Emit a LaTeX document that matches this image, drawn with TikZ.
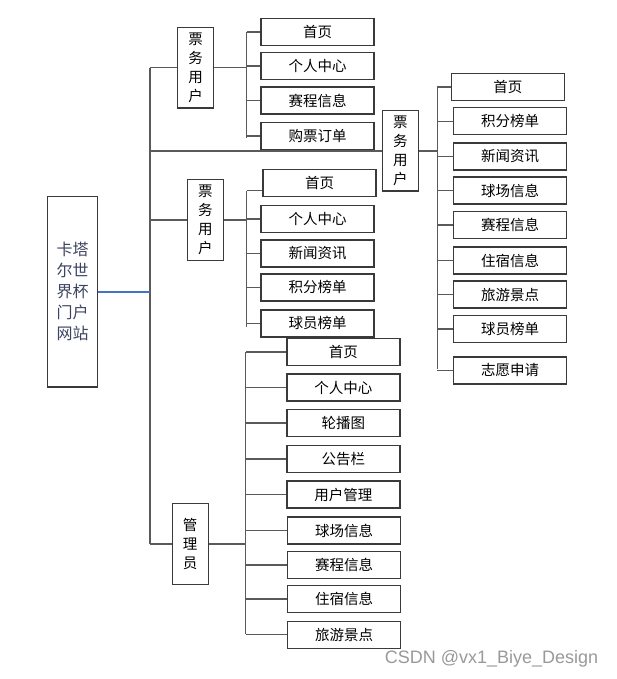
\documentclass[tikz,border=0pt]{standalone}
\usepackage{fontspec}
\newfontfamily\cjk{Noto Sans CJK SC}
\setsansfont{Liberation Sans}
\definecolor{boxgray}{HTML}{3A3A3A}
\definecolor{linegray}{HTML}{5A5A5A}
\definecolor{rootblue}{HTML}{4472C4}
\definecolor{roottext}{HTML}{3C4360}
\begin{document}
\begin{tikzpicture}[x=1pt,y=-1pt,
        item/.style={draw=boxgray,line width=1.4pt,minimum width=113pt,minimum height=27pt,inner sep=0pt,font=\cjk\fontsize{14.5}{16}\selectfont},
        role/.style={draw=boxgray,line width=1.4pt,minimum width=36pt,minimum height=80.5pt,inner sep=0pt,align=center,font=\cjk\fontsize{14.5}{19}\selectfont},
        link/.style={draw=linegray,line width=1.5pt}]
        \useasboundingbox(0,0)rectangle(616,679);
        % root
        \node(site)[draw=boxgray,line width=1.4pt,minimum width=50pt,minimum height=190.3pt,inner sep=0pt,align=center,text=roottext,font=\cjk\fontsize{16}{21}\selectfont]at(72.7,291.9){卡塔\\尔世\\界杯\\门户\\网站};
        \coordinate(t0)at(150,67.7);
        \coordinate(t1)at(150,544);
        \draw[link](t0)--(t1);
        \draw[draw=rootblue,line width=1.3pt](site)--(site -| t0);
        % first ticket user
        \node(u1)[role]at(195.7,67.7){票\\务\\用\\户};
        \node(a1)[item]at(317.5,31.8){首页};
        \node(a2)[item]at(317.5,66.2){个人中心};
        \node(a3)[item]at(317.5,100.7){赛程信息};
        \node(a4)[item]at(317.5,135.8){购票订单};
        \coordinate(sa0)at(246.7,32.3);
        \coordinate(sa1)at(246.7,137.7);
        \draw[link](sa0)--(sa1);
        \draw[link](u1)--(u1 -| t0);
        \draw[link](u1)--(u1 -| sa0);
        \draw[link](a1)--(a1 -| sa0);
        \draw[link](a2)--(a2 -| sa0);
        \draw[link](a3)--(a3 -| sa0);
        \draw[link](a4)--(a4 -| sa0);
        % second ticket user
        \node(u2)[role]at(400.4,150.8){票\\务\\用\\户};
        \node(b1)[item]at(507.8,87){首页};
        \node(b2)[item]at(510.2,121.3){积分榜单};
        \node(b3)[item]at(510.2,156.5){新闻资讯};
        \node(b4)[item]at(510.2,190.5){球场信息};
        \node(b5)[item]at(510.2,225.2){赛程信息};
        \node(b6)[item]at(510.2,260.5){住宿信息};
        \node(b7)[item]at(510.2,294.5){旅游景点};
        \node(b8)[item]at(510.2,328.8){球员榜单};
        \node(b9)[item]at(510.2,370.5){志愿申请};
        \coordinate(sb0)at(437.3,87);
        \coordinate(sb1)at(437.3,369);
        \draw[link](sb0)--(sb1);
        \draw[link](u2)--(u2 -| t0);
        \draw[link](u2)--(u2 -| sb0);
        \draw[link](b1)--(b1 -| sb0);
        \draw[link](b2)--(b2 -| sb0);
        \draw[link](b3)--(b3 -| sb0);
        \draw[link](b4)--(b4 -| sb0);
        \draw[link](b5)--(b5 -| sb0);
        \draw[link](b6)--(b6 -| sb0);
        \draw[link](b7)--(b7 -| sb0);
        \draw[link](b8)--(b8 -| sb0);
        \draw[link](b9)--(b9 -| sb0);
        % third ticket user
        \node(u3)[role]at(205.4,220){票\\务\\用\\户};
        \node(c1)[item]at(319.5,182.8){首页};
        \node(c2)[item]at(317.5,219){个人中心};
        \node(c3)[item]at(317.5,253.3){新闻资讯};
        \node(c4)[item]at(317.5,287.3){积分榜单};
        \node(c5)[item]at(317.5,323.3){球员榜单};
        \coordinate(sc0)at(246.7,190.7);
        \coordinate(sc1)at(246.7,326.7);
        \draw[link](sc0)--(sc1);
        \draw[link](u3)--(u3 -| t0);
        \draw[link](u3)--(u3 -| sc0);
        \draw[link](sc0)--(sc0 -| c1.west);
        \draw[link](c2)--(c2 -| sc0);
        \draw[link](c3)--(c3 -| sc0);
        \draw[link](c4)--(c4 -| sc0);
        \draw[link](c5)--(c5 -| sc0);
        % admin
        \node(adm)[role]at(190.2,544){管\\理\\员};
        \node(d1)[item]at(343.3,351.8){首页};
        \node(d2)[item]at(343.3,387.5){个人中心};
        \node(d3)[item]at(343.3,423.2){轮播图};
        \node(d4)[item]at(343.3,458.8){公告栏};
        \node(d5)[item]at(343.3,494.5){用户管理};
        \node(d6)[item]at(344,530.5){球场信息};
        \node(d7)[item]at(344,564.8){赛程信息};
        \node(d8)[item]at(344,599.2){住宿信息};
        \node(d9)[item]at(344,634.7){旅游景点};
        \coordinate(sd0)at(245.7,352);
        \coordinate(sd1)at(245.7,634.3);
        \draw[link](sd0)--(sd1);
        \draw[link](adm)--(adm -| t0);
        \draw[link](adm)--(adm -| sd0);
        \draw[link](d1)--(d1 -| sd0);
        \draw[link](d2)--(d2 -| sd0);
        \draw[link](d3)--(d3 -| sd0);
        \draw[link](d4)--(d4 -| sd0);
        \draw[link](d5)--(d5 -| sd0);
        \draw[link](d6)--(d6 -| sd0);
        \draw[link](d7)--(d7 -| sd0);
        \draw[link](d8)--(d8 -| sd0);
        \draw[link](d9)--(d9 -| sd0);
        % watermark
        \node(wmark)[text=black!40,font=\sffamily\fontsize{18}{18}\selectfont,inner sep=0pt]at(491.5,659){CSDN @vx1\_Biye\_Design};
    \end{tikzpicture}
\end{document}
